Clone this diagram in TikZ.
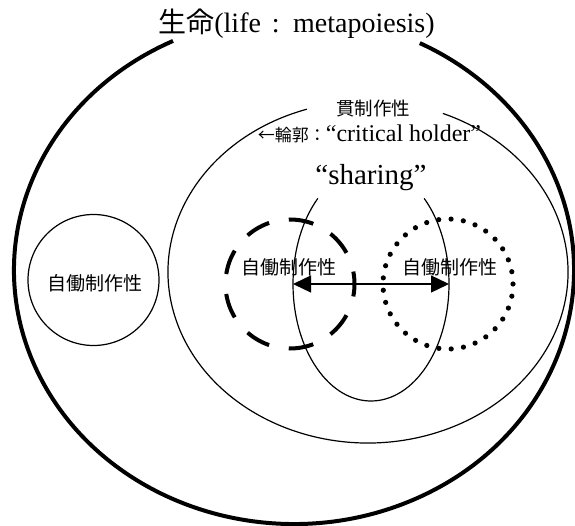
\documentclass[tikz,border=0pt]{standalone}
\usepackage{fontspec}
\setmainfont{Liberation Serif}
\newfontfamily\jp{Noto Sans CJK JP}
\usetikzlibrary{shapes.geometric,arrows.meta}
\begin{document}
\begin{tikzpicture}[x=1pt,y=1pt,
  boldline/.style={line width=4pt},
  thinline/.style={line width=1.2pt},
  jplabel/.style={inner sep=0pt, font=\jp\fontsize{19}{19}\selectfont},
  shapebox/.style={inner sep=0pt, outer sep=0pt},
  biarrow/.style={line width=1.3pt,
    {Triangle[length=18pt,width=17pt]}-{Triangle[length=18pt,width=17pt]}}
]
\useasboundingbox (0,0) rectangle (575,-526);

% centres of the large shapes
\coordinate (life) at (294,-270);
\coordinate (kan) at (368,-272);

% outer ellipse: life (gap for the title)
\draw[boldline] ([shift={(115.6:280 and 254)}]life)
  arc[start angle=115.6, end angle=423.3, x radius=280, y radius=254];

% middle ellipse (gap for its label)
\draw[thinline] ([shift={(107.8:200 and 171)}]kan)
  arc[start angle=107.8, end angle=428, x radius=200, y radius=171];

% tall "sharing" ellipse
\node[shapebox, ellipse, minimum width=156, minimum height=234] (share) at (371,-284) {};
\draw[thinline] ([shift={(133:78 and 117)}]share.center)
  arc[start angle=133, end angle=407, x radius=78, y radius=117];

% left circle
\node[shapebox, circle, draw, thinline, minimum size=131] (leftc) at (93.5,-280) {};
\node[jplabel] (leftlbl) at (95,-283.5) {自働制作性};

% dashed circle
\node[shapebox, circle, draw, line width=4pt, minimum size=129,
  dash pattern=on 25pt off 20.03pt, dash phase=12.5pt] (dashc) at (290,-284) {};
\node[jplabel] (dashlbl) at (288.5,-267.5) {自働制作性};

% dotted circle
\node[shapebox, circle, draw, line width=5.2pt, minimum size=130,
  dash pattern=on 0pt off 12.38pt, line cap=round] (dotc) at (448,-284) {};
\node[jplabel] (dotlbl) at (450,-267.5) {自働制作性};

% arrow across the sharing ellipse
\draw[biarrow] (share.west) -- (share.east);

% texts
\node[anchor=base, inner sep=0pt, font=\fontsize{28}{30}\selectfont] (title)
  at (296.5,-33) {{\jp 生命}(life\hspace{4pt} : \hspace{4pt}metapoiesis)};
\node[inner sep=0pt, font=\jp\fontsize{18.5}{18.5}\selectfont] (kanlbl)
  at (373,-109) {貫制作性};
\node[anchor=base, inner sep=0pt, font=\fontsize{24}{26}\selectfont] (holder)
  at (369.5,-142) {{\jp\fontsize{17}{17}\selectfont ←輪郭：}“critical holder”};
\node[anchor=base, inner sep=0pt, font=\fontsize{29}{31}\selectfont] (sharelbl)
  at (371,-185) {“sharing”};
\end{tikzpicture}
\end{document}
